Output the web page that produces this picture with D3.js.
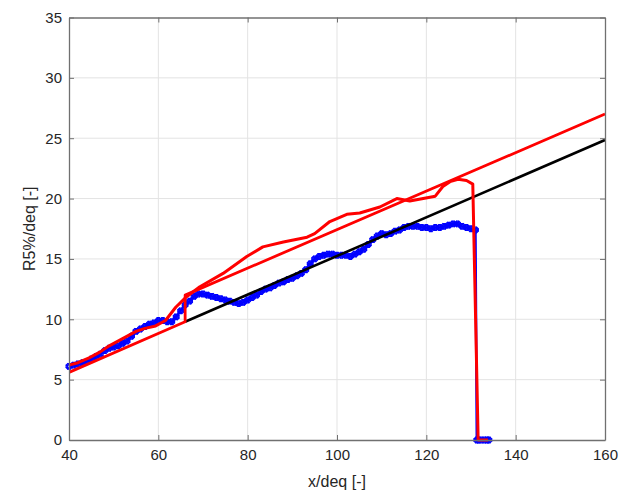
<!DOCTYPE html>
<html>
<head>
<meta charset="utf-8">
<script src="https://cdn.jsdelivr.net/npm/d3@7/dist/d3.min.js"></script>
<style>
  html, body { margin: 0; padding: 0; background: #fff; }
  svg { display: block; font-family: "Liberation Sans", Arial, sans-serif; }
</style>
</head>
<body>
<svg id="chart" width="635" height="497"></svg>
<script>
// ---- data ----
const xTicks = [40, 60, 80, 100, 120, 140, 160];
const yTicks = [0, 5, 10, 15, 20, 25, 30, 35];
const xLabel = "x/deq [-]";
const yLabel = "R5%/deq [-]";

// measured data (blue stars)
const blueX = [40,41,42,43,44,45,46,47,48,49,50,51,52,53,54,55,56,57,58,59,
  60,61,62,63,64,65,66,67,68,69,70,71,72,73,74,75,76,77,78,79,
  80,81,82,83,84,85,86,87,88,89,90,91,92,93,94,95,96,97,98,99,
  100,101,102,103,104,105,106,107,108,109,110,111,112,113,114,115,116,117,118,119,
  120,121,122,123,124,125,126,127,128,129,130,131,131.3,131.7,132.3,133,133.6,134];
const blueY = [6.1,6.2,6.3,6.4,6.5,6.7,6.9,7.1,7.4,7.6,7.7,7.8,8.0,8.2,8.6,9.0,9.2,9.4,9.6,9.7,
  9.9,9.9,9.8,9.8,10.2,10.7,11.2,11.5,11.9,12.1,12.1,12.0,11.9,11.8,11.7,11.6,11.5,11.4,11.3,11.4,
  11.6,11.8,12.0,12.3,12.5,12.6,12.8,13.0,13.1,13.3,13.4,13.6,13.8,14.1,14.6,15.0,15.2,15.3,15.4,15.4,
  15.3,15.3,15.3,15.2,15.4,15.6,15.8,16.2,16.6,16.9,17.1,17.0,17.1,17.3,17.4,17.6,17.7,17.7,17.7,17.6,
  17.6,17.5,17.6,17.6,17.7,17.8,17.9,17.9,17.7,17.6,17.5,17.4,0,0,0,0,0,0];

// red envelope curve
const envX = [40,42,44.5,47,49,52,55,57,59.4,61.6,63.9,66.1,69.3,74.5,79.8,83.4,88,93.3,95,98.4,
  102.2,105.1,109.6,113.4,116.3,122,123.7,125.3,127.1,129,130.4,131.6,133.8];
const envY = [6.2,6.4,6.8,7.3,7.8,8.4,9.0,9.25,9.45,9.9,11.0,11.8,12.7,13.8,15.2,16.0,16.4,16.8,17.1,18.1,
  18.7,18.8,19.3,20.0,19.8,20.2,21.0,21.4,21.6,21.5,21.2,0,0];

// red straight design line (with jump)
const designX = [40, 66, 66, 160];
const designY = [5.6, 9.8, 12.0, 27.0];

// black straight line
const blackX = [66, 160];
const blackY = [9.8, 24.85];

// ---- layout ----
const svg = d3.select("#chart");
const L = 69, R = 605, T = 17.5, B = 440;
const x = d3.scaleLinear().domain([40, 160]).range([L, R]);
const y = d3.scaleLinear().domain([0, 35]).range([B, T]);

const g = svg.append("g");

// grid
g.append("g").selectAll("line").data(xTicks.slice(1, -1)).join("line")
  .attr("x1", d => x(d)).attr("x2", d => x(d)).attr("y1", T).attr("y2", B)
  .attr("stroke", "#e3e3e3").attr("stroke-width", 1);
g.append("g").selectAll("line").data(yTicks.slice(1, -1)).join("line")
  .attr("y1", d => y(d)).attr("y2", d => y(d)).attr("x1", L).attr("x2", R)
  .attr("stroke", "#e3e3e3").attr("stroke-width", 1);

svg.append("defs").append("clipPath").attr("id", "clip")
  .append("rect").attr("x", L).attr("y", T - 2).attr("width", R - L).attr("height", B - T + 4);

const plot = g.append("g");

const line = d3.line().x(d => x(d[0])).y(d => y(d[1]));
const zip = (a, b) => a.map((v, i) => [v, b[i]]);

// blue data line + star markers
const bluePts = zip(blueX, blueY);
plot.append("path").attr("d", line(bluePts)).attr("fill", "none")
  .attr("stroke", "#0000ff").attr("stroke-width", 2.5);
const cross = d3.symbol().type(d3.symbolCross).size(18)();
plot.append("g").selectAll("path").data(bluePts).join("path")
  .attr("d", cross)
  .attr("transform", d => `translate(${x(d[0])},${y(d[1])}) rotate(45)`)
  .attr("fill", "none").attr("stroke", "#0000ff").attr("stroke-width", 1.2);
plot.append("g").selectAll("path").data(bluePts).join("path")
  .attr("d", cross)
  .attr("transform", d => `translate(${x(d[0])},${y(d[1])})`)
  .attr("fill", "none").attr("stroke", "#0000ff").attr("stroke-width", 1.2);

// black line
plot.append("path").attr("d", line(zip(blackX, blackY))).attr("fill", "none")
  .attr("stroke", "#000").attr("stroke-width", 2.6);

// red design line
plot.append("path").attr("d", line(zip(designX, designY))).attr("fill", "none")
  .attr("stroke", "#ff0000").attr("stroke-width", 2.8).attr("stroke-linejoin", "round")
  .attr("clip-path", "url(#clip)");

// red envelope
plot.append("path").attr("d", line(zip(envX, envY))).attr("fill", "none")
  .attr("stroke", "#ff0000").attr("stroke-width", 3).attr("stroke-linejoin", "round");

// axes box
const axColor = "#707070";
const xAxisB = d3.axisBottom(x).tickValues(xTicks).tickSize(-5).tickSizeOuter(0).tickPadding(9);
const yAxisL = d3.axisLeft(y).tickValues(yTicks).tickSize(-5).tickSizeOuter(0).tickPadding(7);
const xAxisT = d3.axisTop(x).tickValues(xTicks).tickSize(-5).tickSizeOuter(0).tickFormat("");
const yAxisR = d3.axisRight(y).tickValues(yTicks).tickSize(-5).tickSizeOuter(0).tickFormat("");

function styleAxis(sel) {
  sel.select(".domain").attr("stroke", axColor).attr("stroke-width", 1.3);
  sel.selectAll(".tick line").attr("stroke", axColor).attr("stroke-width", 1);
  sel.selectAll(".tick text").attr("fill", "#262626").style("font-size", "15px")
    .style("font-family", "'Liberation Sans', Arial, sans-serif");
}
g.append("g").attr("transform", `translate(0,${B})`).call(xAxisB).call(styleAxis);
g.append("g").attr("transform", `translate(${L},0)`).call(yAxisL).call(styleAxis);
g.append("g").attr("transform", `translate(0,${T})`).call(xAxisT).call(styleAxis);
g.append("g").attr("transform", `translate(${R},0)`).call(yAxisR).call(styleAxis);

// axis titles
svg.append("text").attr("x", (L + R) / 2).attr("y", 487).attr("text-anchor", "middle")
  .attr("fill", "#262626").style("font-size", "16px").text(xLabel);
svg.append("text").attr("transform", `translate(35,${(T + B) / 2}) rotate(-90)`)
  .attr("text-anchor", "middle").attr("fill", "#262626").style("font-size", "16px").text(yLabel);
</script>
</body>
</html>
